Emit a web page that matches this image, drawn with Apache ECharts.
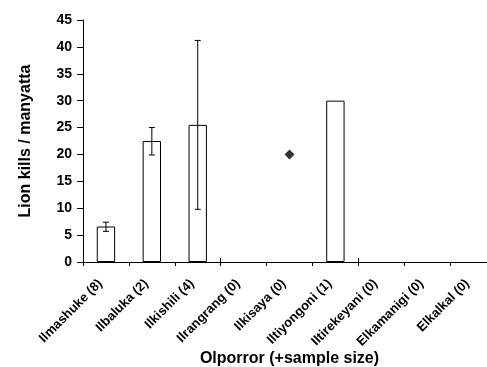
<!DOCTYPE html>
<html><head><meta charset="utf-8">
<script src="https://cdn.jsdelivr.net/npm/echarts@6/dist/echarts.min.js"></script>
<style>html,body{margin:0;padding:0;background:#fff}#c{width:487px;height:367px}</style>
</head><body><div id="c"></div>
<script>
var categories = ['Ilmashuke (8)','Ilbaluka (2)','Ilkishili (4)','Ilrangrang (0)','Ilkisaya (0)','Iltiyongoni (1)','Iltirekeyani (0)','Elkamanigi (0)','Elkalkal (0)'];
var barValues = [6.6, 22.5, 25.5, null, null, 30, null, null, null];
var errLow = [5.7, 19.9, 9.8, null, null, null, null, null, null];
var errHigh = [7.4, 25.0, 41.2, null, null, null, null, null, null];
var pointValues = [null, null, null, null, 20, null, null, null, null];
var yTicks = {min: 0, max: 45, interval: 5};

var errData = [];
categories.forEach(function(c, i){ if (errLow[i] != null) errData.push([i, errLow[i], errHigh[i]]); });
var font = 'Liberation Sans, Arial, sans-serif';
var chart = echarts.init(document.getElementById('c'));
chart.setOption({
  animation: false,
  grid: {left: 83, top: 20, bottom: 105, right: -9, containLabel: false, outerBoundsMode: 'none'},
  xAxis: [{
    type: 'category', data: categories, boundaryGap: true,
    axisLine: {lineStyle: {color: '#000', width: 1}},
    axisTick: {show: true, length: 4, lineStyle: {color: '#000'}},
    axisLabel: {rotate: 45, margin: 14, padding: [0, 8, 0, 0], color: '#000', fontFamily: font, fontWeight: 'bold', fontSize: 13, interval: 0},
    name: 'Olporror (+sample size)', nameLocation: 'middle', nameGap: 89, nameMoveOverlap: false,
    nameTextStyle: {color: '#000', fontFamily: font, fontWeight: 'bold', fontSize: 16}
  }, {
    type: 'category', data: categories, position: 'bottom',
    axisLine: {show: false}, axisLabel: {show: false},
    axisTick: {show: true, inside: true, length: 4, lineStyle: {color: '#000'}}
  }],
  yAxis: {
    type: 'value', min: yTicks.min, max: yTicks.max, interval: yTicks.interval,
    splitLine: {show: false},
    axisLine: {show: true, lineStyle: {color: '#000'}},
    axisTick: {show: true, length: 6, lineStyle: {color: '#000'}},
    axisLabel: {margin: 11, color: '#000', fontFamily: font, fontWeight: 'bold', fontSize: 14},
    name: 'Lion kills / manyatta', nameLocation: 'middle', nameGap: 49, nameMoveOverlap: false,
    nameTextStyle: {color: '#000', fontFamily: font, fontWeight: 'bold', fontSize: 16}
  },
  series: [{
    type: 'bar', data: barValues, barWidth: '40%',
    itemStyle: {color: '#fff', borderColor: '#000', borderWidth: 1}
  }, {
    type: 'custom', data: errData, z: 5,
    renderItem: function(params, api){
      var x = api.value(0);
      var lo = api.coord([x, api.value(1)]);
      var hi = api.coord([x, api.value(2)]);
      var h = 3;
      return {type: 'group', children: [
        {type: 'line', shape: {x1: lo[0], y1: lo[1], x2: hi[0], y2: hi[1]}, style: {stroke: '#000', lineWidth: 1}},
        {type: 'line', shape: {x1: hi[0]-h, y1: hi[1], x2: hi[0]+h, y2: hi[1]}, style: {stroke: '#000', lineWidth: 1}},
        {type: 'line', shape: {x1: lo[0]-h, y1: lo[1], x2: lo[0]+h, y2: lo[1]}, style: {stroke: '#000', lineWidth: 1}}
      ]};
    }
  }, {
    type: 'scatter', data: pointValues, symbol: 'diamond', symbolSize: [10, 10],
    itemStyle: {color: '#000'}
  }]
});
</script></body></html>
